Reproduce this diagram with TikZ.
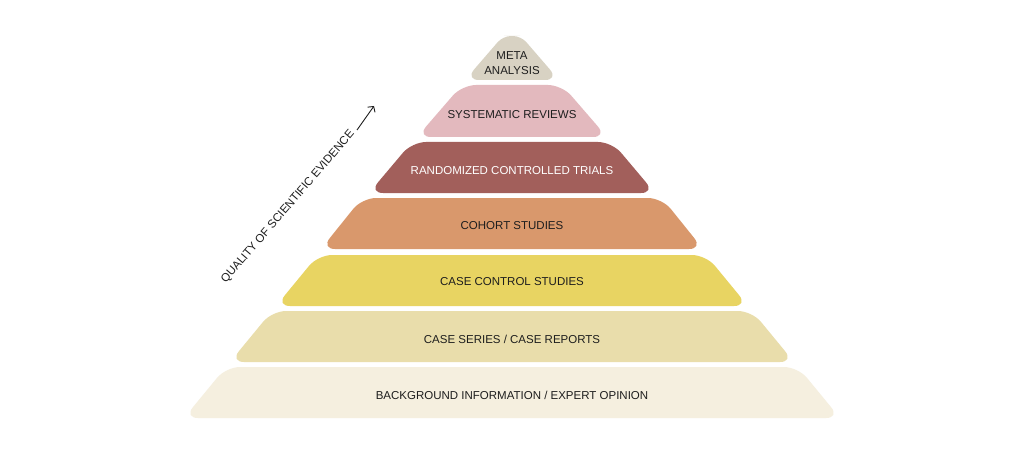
\documentclass[tikz,border=0pt]{standalone}
\usepackage{fontspec}
\setmainfont{Liberation Sans}
\usetikzlibrary{arrows.meta}
\definecolor{inkdark}{HTML}{1E1E1E}
\definecolor{metaC}{HTML}{D8D2C3}
\definecolor{sysC}{HTML}{E3B9BE}
\definecolor{rctC}{HTML}{A25F5B}
\definecolor{cohortC}{HTML}{D9986C}
\definecolor{ccC}{HTML}{E8D462}
\definecolor{seriesC}{HTML}{E9DDAB}
\definecolor{bgC}{HTML}{F5EFDF}
% one tier of the pyramid: #1 top y, #2 bottom y, #3 bottom half-width, #4 top half-width, #5 fill, #6 top rounding
% the rounding changes at mid-points of the slanted sides, so each corner gets one radius
\newcommand\pyrtier[6]{%
  \fill[#5] (512,#1) [rounded corners=#6] -- (512+#4,#1)
    -- ({512+(#3+#4)/2},{(#1+#2)/2}) [rounded corners=14pt] -- (512+#3,#2) -- (512-#3,#2)
    -- ({512-(#3+#4)/2},{(#1+#2)/2}) [rounded corners=#6] -- (512-#4,#1) -- cycle;}
\begin{document}
\begin{tikzpicture}[x=1pt,y=-1pt,
  tierlabel/.style={font=\fontsize{11.5}{15}\selectfont, text=inkdark, align=center, inner sep=0pt},
  axislabel/.style={font=\fontsize{11.5}{13.5}\selectfont, text=inkdark, inner sep=0pt}]
\useasboundingbox[fill=white] (0,0) rectangle (1024,457);
% tiers, top to bottom
\pyrtier{36}{80}{47}{9}{metaC}{8pt}
\pyrtier{85}{137}{95}{50}{sysC}{14pt}
\pyrtier{142}{193}{143}{100}{rctC}{14pt}
\pyrtier{198}{249}{191}{150}{cohortC}{14pt}
\pyrtier{255}{306}{236}{194}{ccC}{14pt}
\pyrtier{311}{362}{282}{240}{seriesC}{14pt}
\pyrtier{367}{418}{328}{286}{bgC}{14pt}
% tier labels
\node[tierlabel] (t1) at (512,63) {META\\ANALYSIS};
\node[tierlabel] (t2) at (512,114.5) {SYSTEMATIC REVIEWS};
\node[tierlabel, text=white] (t3) at (512,170.5) {RANDOMIZED CONTROLLED TRIALS};
\node[tierlabel] (t4) at (512,225.5) {COHORT STUDIES};
\node[tierlabel] (t5) at (512,282) {CASE CONTROL STUDIES};
\node[tierlabel] (t6) at (512,339) {CASE SERIES / CASE REPORTS};
\node[tierlabel] (t7) at (512,395.5) {BACKGROUND INFORMATION / EXPERT OPINION};
% quality axis
\node[axislabel, rotate=49.3] (quality) at (288,207) {QUALITY OF SCIENTIFIC EVIDENCE};
\coordinate (qa) at (357,130);
\coordinate (qb) at (374,106);
\draw[inkdark, line width=0.9pt, -{Straight Barb[length=4pt,width=9pt]}] (qa) -- (qb);
\end{tikzpicture}
\end{document}
